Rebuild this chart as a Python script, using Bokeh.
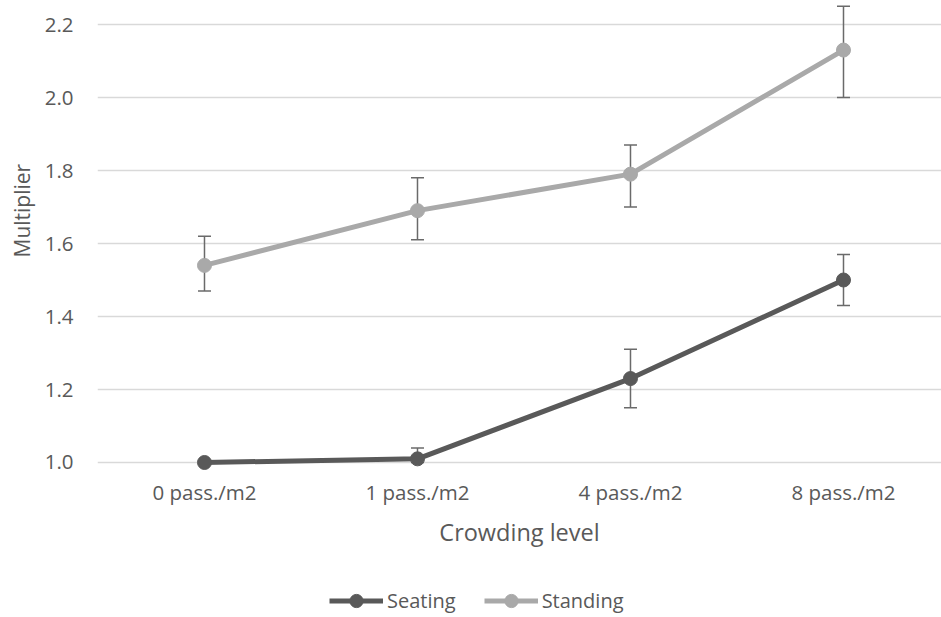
from bokeh.plotting import figure
from bokeh.layouts import column
from bokeh.models import (FixedTicker, NumeralTickFormatter, Range1d, Legend,
                          LegendItem, ColumnDataSource, Title)
from bokeh.embed import file_html
from bokeh.resources import INLINE

categories = ["0 pass./m2", "1 pass./m2", "4 pass./m2", "8 pass./m2"]
seating = [1.00, 1.01, 1.23, 1.50]
seating_upper = [1.00, 1.04, 1.31, 1.57]
seating_lower = [1.00, 1.00, 1.15, 1.43]
standing = [1.54, 1.69, 1.79, 2.13]
standing_upper = [1.62, 1.78, 1.87, 2.25]
standing_lower = [1.47, 1.61, 1.70, 2.00]
y_ticks = [1.0, 1.2, 1.4, 1.6, 1.8, 2.0, 2.2]
series_names = ["Seating", "Standing"]
x_title = "Crowding level"
y_title = "Multiplier"

FONT = "Open Sans"
TXT = "#595959"
C_SEAT = "#595959"
C_STAND = "#A9A9A9"
C_ERR = "#6A6A6A"

xs = list(range(len(categories)))

p = figure(width=941, height=575,
           x_range=Range1d(-0.5023, 3.4601), y_range=Range1d(0.9589, 2.2658),
           min_border_left=97, min_border_right=0, min_border_top=0,
           min_border_bottom=98, output_backend="svg", toolbar_location=None)
p.outline_line_color = None
p.background_fill_color = "white"

src_seat = ColumnDataSource(dict(x=xs, y=seating, up=seating_upper, lo=seating_lower))
src_stand = ColumnDataSource(dict(x=xs, y=standing, up=standing_upper, lo=standing_lower))

# error bars
for src in (src_seat, src_stand):
    p.segment(x0="x", y0="lo", x1="x", y1="up", source=src, line_color=C_ERR, line_width=1.5)
    p.scatter(x="x", y="up", source=src, marker="dash", size=13, line_color=C_ERR, line_width=1.5)
    p.scatter(x="x", y="lo", source=src, marker="dash", size=13, line_color=C_ERR, line_width=1.5)

for src, col in ((src_seat, C_SEAT), (src_stand, C_STAND)):
    p.line(x="x", y="y", source=src, line_color=col, line_width=5)
    p.scatter(x="x", y="y", source=src, marker="circle", size=14,
              fill_color=col, line_color=col)

# axes
p.xaxis.ticker = FixedTicker(ticks=xs)
p.xaxis.major_label_overrides = {i: c for i, c in enumerate(categories)}
p.yaxis.ticker = FixedTicker(ticks=y_ticks)
p.yaxis.formatter = NumeralTickFormatter(format="0.0")
for ax in (p.xaxis, p.yaxis):
    ax.axis_line_color = None
    ax.major_tick_line_color = None
    ax.minor_tick_line_color = None
    ax.major_tick_out = 0
    ax.major_tick_in = 0
    ax.major_label_text_font = FONT
    ax.major_label_text_font_size = "20.5px"
    ax.major_label_text_color = TXT
    ax.axis_label_text_font = FONT
    ax.axis_label_text_font_size = "23.5px"
    ax.axis_label_text_color = TXT
    ax.axis_label_text_font_style = "normal"
p.xaxis.axis_label = x_title
p.xaxis.major_label_standoff = 0
p.xaxis.axis_label_standoff = 7
p.yaxis.major_label_standoff = 24

# y-axis title placed like the reference (slightly above the frame centre)
ytitle = Title(text=y_title, align="left", offset=220, standoff=11,
               text_font=FONT, text_font_size="21px", text_color=TXT,
               text_font_style="normal")
p.add_layout(ytitle, "left")

p.xgrid.grid_line_color = None
p.ygrid.grid_line_color = "#D9D9D9"
p.ygrid.grid_line_width = 1.3

# legend strip below the chart
lf = figure(width=941, height=42, x_range=Range1d(10, 11), y_range=Range1d(10, 11),
            x_axis_type=None, y_axis_type=None, min_border=0,
            output_backend="svg", toolbar_location=None)
lf.outline_line_color = None
lf.xgrid.grid_line_color = None
lf.ygrid.grid_line_color = None
items = []
for name, col, vals in zip(series_names, (C_SEAT, C_STAND), (seating, standing)):
    r1 = lf.line(x=xs, y=vals, line_color=col, line_width=5)
    r2 = lf.scatter(x=xs, y=vals, marker="circle", size=13, fill_color=col, line_color=col)
    items.append(LegendItem(label=name, renderers=[r1, r2]))
legend = Legend(items=items, orientation="horizontal", location=(232, 0),
                padding=0, margin=0, border_line_color=None,
                background_fill_alpha=0, glyph_width=54, glyph_height=33,
                label_standoff=4, spacing=28, label_text_font=FONT,
                label_text_font_size="20px", label_text_color=TXT)
lf.add_layout(legend)

layout = column(p, lf, spacing=0)
open("out.html", "w").write(file_html(layout, INLINE))
